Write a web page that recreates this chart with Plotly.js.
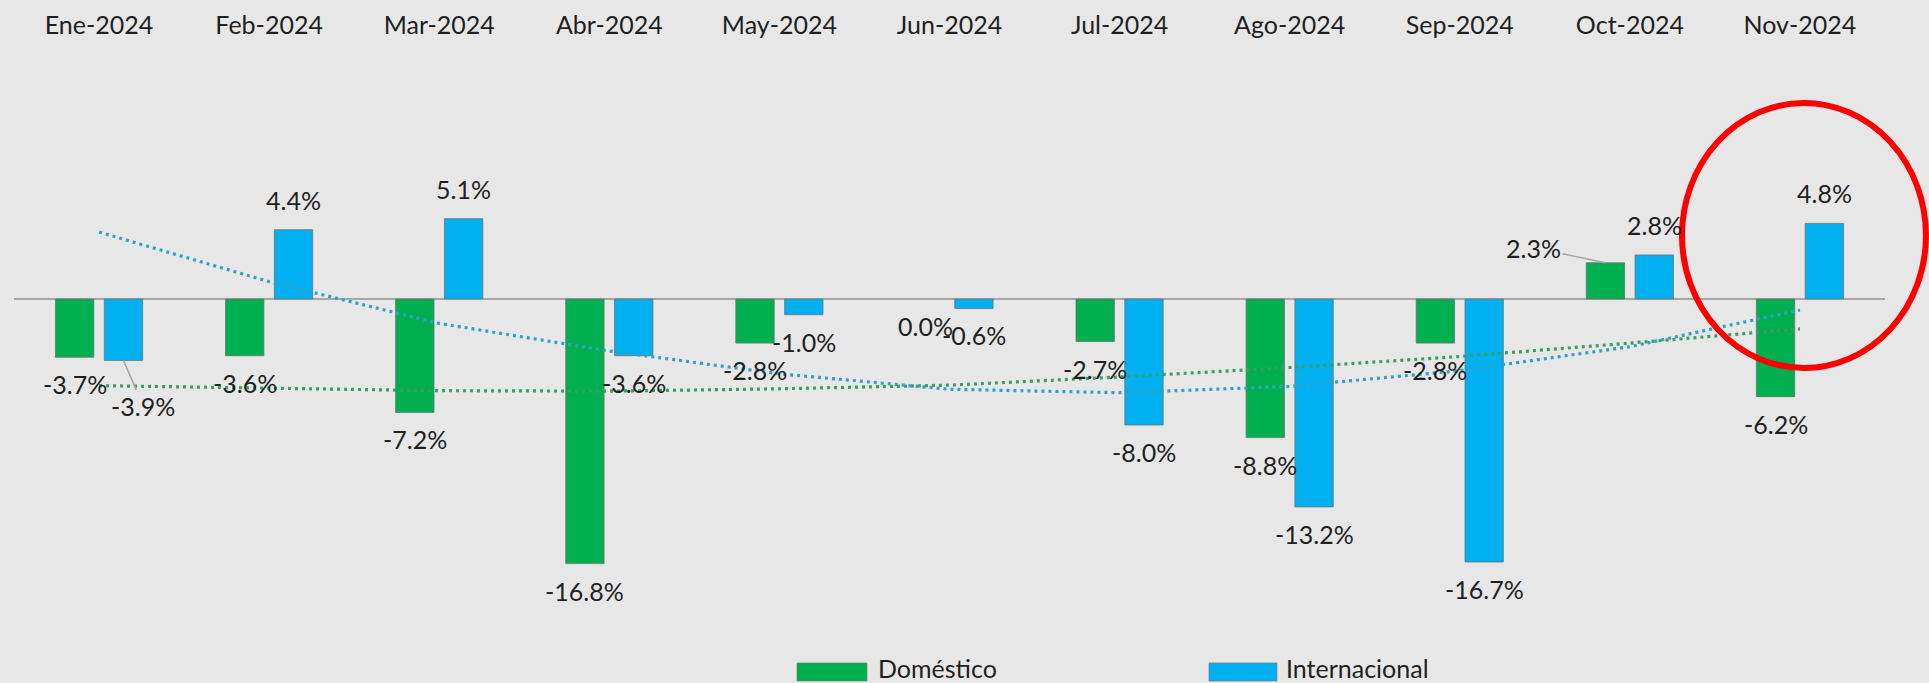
<!DOCTYPE html>
<html>
<head>
<meta charset="utf-8">
<script src="https://cdn.plot.ly/plotly-3.0.1.min.js"></script>
<style>
  html, body { margin: 0; padding: 0; background: #E7E7E7; }
  #chart { width: 1929px; height: 683px; }
</style>
</head>
<body>
<div id="chart"></div>
<script>
// ---- data ----
const months = ["Ene-2024","Feb-2024","Mar-2024","Abr-2024","May-2024","Jun-2024","Jul-2024","Ago-2024","Sep-2024","Oct-2024","Nov-2024"];
const domestico = [-3.7, -3.6, -7.2, -16.8, -2.8, 0.0, -2.7, -8.8, -2.8, 2.3, -6.2];
const internacional = [-3.9, 4.4, 5.1, -3.6, -1.0, -0.6, -8.0, -13.2, -16.7, 2.8, 4.8];
// dotted trend lines at each month
const tendenciaDom = [-5.5, -5.65, -5.82, -5.85, -5.7, -5.47, -4.95, -4.35, -3.65, -2.8, -1.9];
const tendenciaInt = [4.25, 1.1, -1.55, -3.3, -4.75, -5.73, -5.95, -5.55, -4.55, -3.03, -0.7];
const seriesNames = ["Doméstico", "Internacional"];

// ---- style ----
const GREEN = "#00B050", BLUE = "#00B0F0";
const FONT = "Lato, 'Open Sans', sans-serif";
const TXT = "#1F1F1F";
const bargap = 0.426, bargroupgap = 0.214;
const half = (1 - bargap) / 4; // offset of each bar centre from the category centre

const outline = vals => ({ color: "rgba(110,110,110,0.75)", width: vals.map(v => v === 0 ? 0 : 1) });

const traces = [
  { type: "bar", name: seriesNames[0], x: months, y: domestico,
    marker: { color: GREEN, line: outline(domestico) }, hoverinfo: "skip" },
  { type: "bar", name: seriesNames[1], x: months, y: internacional,
    marker: { color: BLUE, line: outline(internacional) }, hoverinfo: "skip" },
  { type: "scatter", mode: "lines", x: months, y: tendenciaDom, showlegend: false,
    line: { color: "#37A062", width: 3.2, dash: "3px,4px" }, hoverinfo: "skip" },
  { type: "scatter", mode: "lines", x: months, y: tendenciaInt, showlegend: false,
    line: { color: "#30A2C6", width: 3.2, dash: "3px,4px" }, hoverinfo: "skip" }
];

// label offsets (pixels) where the original labels were dragged away from the bar
const labelOverride = {
  "1-0": { ax: 20, ay: 46, leader: true },    // Internacional, Ene
  "0-9": { ax: -72, ay: -15, leader: true }   // Doméstico, Oct
};

const annotations = [];
[domestico, internacional].forEach((vals, s) => {
  vals.forEach((v, i) => {
    const key = s + "-" + i;
    const ov = labelOverride[key];
    const ay = ov ? ov.ay : (v > 0 ? -30 : 27);
    const ax = ov ? ov.ax : 0;
    annotations.push({
      x: i + (s === 0 ? -half : half), y: v, xref: "x", yref: "y",
      text: v.toFixed(1) + "%",
      showarrow: true, ax: ax, ay: ay, arrowhead: 0,
      arrowwidth: 1.6, arrowcolor: ov && ov.leader ? "#A6A6A6" : "rgba(0,0,0,0)",
      font: { family: FONT, size: 25, color: TXT }
    });
  });
});

// legend (drawn as swatches + text, bottom centre)
const legendItems = [
  { name: seriesNames[0], color: GREEN, x0: 0.4185, x1: 0.4559, tx: 0.4605 },
  { name: seriesNames[1], color: BLUE, x0: 0.6387, x1: 0.6750, tx: 0.6790 }
];
const shapes = [];
legendItems.forEach(it => {
  shapes.push({ type: "rect", xref: "paper", yref: "paper", x0: it.x0, x1: it.x1,
    y0: -0.0334, y1: -0.0635, fillcolor: it.color, line: { color: "rgba(110,110,110,0.6)", width: 1 } });
  annotations.push({ xref: "paper", yref: "paper", x: it.tx, y: -0.0415, xanchor: "left", yanchor: "middle",
    showarrow: false, text: it.name, font: { family: FONT, size: 25, color: TXT } });
});

// red highlight ellipse around Nov-2024
shapes.push({ type: "circle", xref: "paper", yref: "paper", layer: "above",
  x0: 0.8915, x1: 1.0219, y0: 0.4599, y1: 0.9030,
  line: { color: "#FF0000", width: 6 }, fillcolor: "rgba(0,0,0,0)" });

const layout = {
  width: 1929, height: 683,
  paper_bgcolor: "#E7E7E7", plot_bgcolor: "#E7E7E7",
  margin: { l: 14, r: 44, t: 45, b: 40 },
  barmode: "group", bargap: bargap, bargroupgap: bargroupgap,
  showlegend: false,
  font: { family: FONT, color: TXT },
  xaxis: { type: "category", side: "top", range: [-0.5, 10.5], showgrid: false, showline: false,
    ticks: "", ticklabelstandoff: 5, tickfont: { family: FONT, size: 25, color: TXT }, fixedrange: true },
  yaxis: { range: [-21.84, 16.127], showgrid: false, showticklabels: false, ticks: "",
    zeroline: true, zerolinecolor: "#A6A6A6", zerolinewidth: 2, fixedrange: true },
  annotations: annotations,
  shapes: shapes
};

Plotly.newPlot("chart", traces, layout, { displayModeBar: false, staticPlot: true });
</script>
</body>
</html>
